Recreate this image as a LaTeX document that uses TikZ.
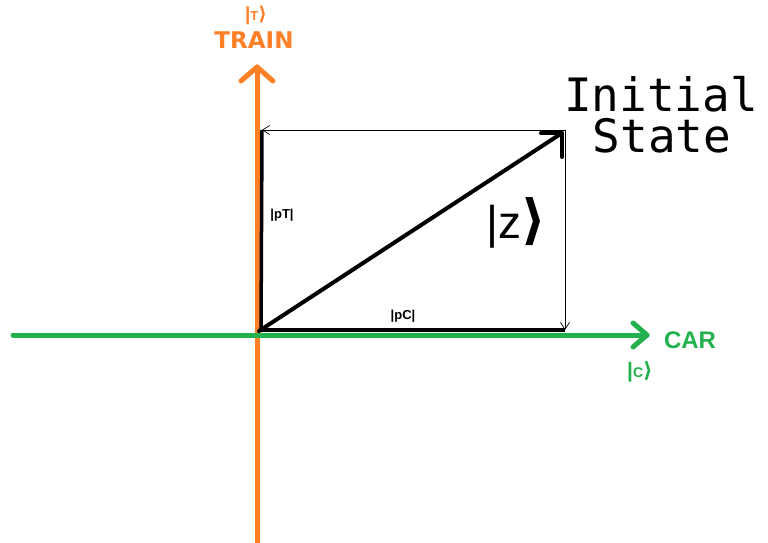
\documentclass[tikz,border=0pt]{standalone}
\usepackage{fontspec}
\usetikzlibrary{calc,arrows.meta}
\setmainfont{Liberation Sans}
\newfontfamily\monofont{DejaVu Sans Mono}
\newfontfamily\dvsans{DejaVu Sans}
\definecolor{paintorange}{RGB}{255,127,39}
\definecolor{paintgreen}{RGB}{34,177,76}
\newcommand{\ketclose}[1]{{\dvsans\fontsize{#1}{#1}\selectfont ⟩}}
\begin{document}
\begin{tikzpicture}[x=1pt,y=-1pt,
  axisline/.style={line width=5pt,line cap=round,line join=round},
  vecline/.style={line width=4pt,line cap=round,line join=round},
  thinarrow/.style={line width=0.7pt,-{Straight Barb[length=7pt,width=9pt,line width=0.7pt]}},
  lbl/.style={inner sep=0pt,anchor=center},
  bigtitle/.style={inner sep=0pt,anchor=base,font=\monofont\fontsize{46}{46}\selectfont,text height=34pt,text depth=0pt}]
\useasboundingbox (0,0) rectangle (768,543);
% coordinates
\coordinate (O) at (259,331);
\coordinate (TB) at (257,543);
\coordinate (TT) at (257,67);
\coordinate (CL) at (13,335);
\coordinate (CR) at (647,335);
\coordinate (Z) at (562,133);
\coordinate (Ptop) at (262,130);
\coordinate (Pright) at (565,130);
\coordinate (Pbot) at (565,330);
% axes
\draw[paintorange,axisline] (TB) -- (TT);
\draw[paintorange,axisline] ($(TT)+(-16,14)$) -- (TT) -- ($(TT)+(16,14)$);
\draw[paintgreen,axisline] (CL) -- (CR);
\draw[paintgreen,axisline] ($(CR)+(-14,-12)$) -- (CR) -- ($(CR)+(-14,12)$);
% components
\draw[line width=3.5pt] (261,332) -- (Ptop);
\draw[line width=4pt] (261,330) -- (Pbot);
% projection arrows
\draw[thinarrow] (Pright) -- (Ptop);
\draw[thinarrow] (Pright) -- (Pbot);
% state vector
\draw[vecline] (O) -- (Z);
\draw[vecline] ($(Z)+(-21,0)$) -- (Z) -- ($(Z)+(0,24)$);
% labels
\node[lbl,text=paintorange,font=\bfseries\fontsize{19}{19}\selectfont] (tket) at (256,15) {|{\fontsize{13}{13}\selectfont T}\ketclose{19}};
\node[lbl,text=paintorange,font=\dvsans\bfseries\fontsize{23}{23}\selectfont] (train) at (254,40) {TRAIN};
\node[lbl,text=paintgreen,font=\bfseries\fontsize{24}{24}\selectfont] (car) at (690,340) {CAR};
\node[lbl,text=paintgreen,font=\bfseries\fontsize{21}{21}\selectfont] (cket) at (640,372) {|{\fontsize{14}{14}\selectfont C}\ketclose{21}};
\node[lbl,font=\bfseries\fontsize{13}{13}\selectfont] (pT) at (282,215) {|pT|};
\node[lbl,font=\bfseries\fontsize{13}{13}\selectfont] (pC) at (403,316) {|pC|};
\node[lbl,font=\fontsize{46}{46}\selectfont] (z) at (516,223) {|z{\dvsans\bfseries\fontsize{54}{54}\selectfont ⟩}};
\node[bigtitle] (init1) at (661,111) {Initial};
\node[bigtitle] (init2) at (662,152) {State};
\end{tikzpicture}
\end{document}
